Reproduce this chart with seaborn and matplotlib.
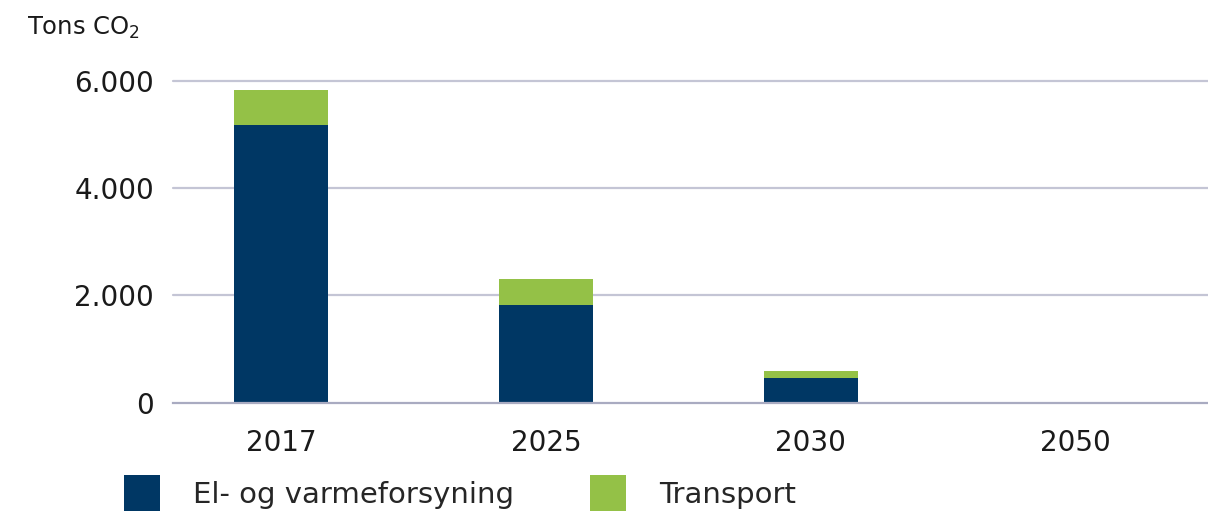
import matplotlib
matplotlib.use("Agg")
import matplotlib.pyplot as plt
import seaborn as sns
import pandas as pd
from matplotlib.patches import Patch

years = ["2017", "2025", "2030", "2050"]
el_varme = [5175, 1815, 460, 0]
transport = [650, 500, 130, 0]
series_names = ["El- og varmeforsyning", "Transport"]
y_ticks = [0, 2000, 4000, 6000]
y_tick_labels = ["0", "2.000", "4.000", "6.000"]

DARK = "#003764"
GREEN = "#94c147"
GRID = "#c4c5d5"

sns.set_theme(style="white")
plt.rcParams["font.family"] = ["DejaVu Sans"]

df = pd.DataFrame({
    "year": years,
    "el": el_varme,
    "total": [a + b for a, b in zip(el_varme, transport)],
})

fig = plt.figure(figsize=(12.08, 5.11), dpi=100)
ax = fig.add_axes([172.7 / 1208, 1 - 402.7 / 511, 1 - 172.7 / 1208, (402.7 - 81) / 511])

sns.barplot(data=df, x="year", y="total", color=GREEN, width=0.355,
            saturation=1, ax=ax, zorder=3, linewidth=0)
sns.barplot(data=df, x="year", y="el", color=DARK, width=0.355,
            saturation=1, ax=ax, zorder=4, linewidth=0)

ax.set_xlim(-0.41, 3.5)
ax.set_ylim(0, 6000)
ax.set_yticks(y_ticks)
ax.set_yticklabels(y_tick_labels)
ax.set_xlabel("")
ax.set_ylabel("")
for y in y_ticks[1:]:
    ax.axhline(y, color=GRID, linewidth=1.6, zorder=1, clip_on=False)
for s in ["top", "right", "left"]:
    ax.spines[s].set_visible(False)
ax.spines["bottom"].set_color("#a9abc1")
ax.spines["bottom"].set_linewidth(1.6)
ax.spines["bottom"].set_zorder(5)
ax.tick_params(axis="y", length=0, pad=13.5, labelsize=20, labelcolor="#1a1a1a")
ax.tick_params(axis="x", length=0, pad=19, labelsize=20, labelcolor="#1a1a1a")

fig.text(27 / 1208, 1 - 28 / 511, "Tons CO$_2$", fontsize=17.5, va="center",
         ha="left", color="#1a1a1a")

handles = [Patch(facecolor=DARK, edgecolor="none"), Patch(facecolor=GREEN, edgecolor="none")]
fig.legend(handles, series_names, loc="upper left",
           bbox_to_anchor=(124 / 1208, 1 - 475 / 511), ncol=2, frameon=False,
           fontsize=21, handlelength=1.22, handleheight=1.6,
           handletextpad=1.15, columnspacing=2.6, borderpad=0, borderaxespad=0)

fig.savefig("out.png", dpi=100)
